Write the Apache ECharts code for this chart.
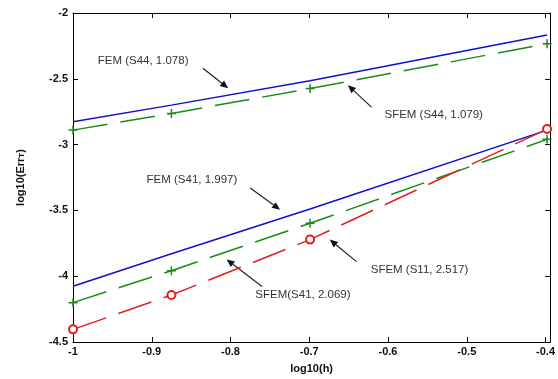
<!DOCTYPE html>
<html><head><meta charset="utf-8">
<script src="https://cdn.jsdelivr.net/npm/echarts@6/dist/echarts.min.js"></script>
<style>html,body{margin:0;padding:0;background:#fff}#c{width:558px;height:379px}</style>
</head><body><div id="c"></div>
<script>
const logH = [-1, -0.875, -0.699, -0.398];
const femS44 = [-2.827, -2.70, -2.515, -2.167];
const sfemS44 = [-2.890, -2.763, -2.574, -2.233];
const femS41 = [-4.076, -3.83, -3.49, -2.89];
const sfemS41 = [-4.201, -3.958, -3.598, -2.96];
const sfemS11 = [-4.404, -4.143, -3.722, -2.882];
const xTicks = [-1, -0.9, -0.8, -0.7, -0.6, -0.5, -0.4];
const yTicks = [-4.5, -4, -3.5, -3, -2.5, -2];
// annotations: [text, textX, textY, arrowFromX, arrowFromY, arrowToX, arrowToY]
const notes = [
  ['FEM (S44, 1.078)', -0.911, -2.36, -0.835, -2.42, -0.803, -2.572],
  ['SFEM (S44, 1.079)', -0.542, -2.776, -0.621, -2.715, -0.651, -2.549],
  ['FEM (S41, 1.997)', -0.849, -3.268, -0.775, -3.329, -0.737, -3.495],
  ['SFEM (S11, 2.517)', -0.560, -3.949, -0.640, -3.889, -0.674, -3.722],
  ['SFEM(S41, 2.069)', -0.708, -4.139, -0.760, -4.078, -0.805, -3.873]
];

const pairs = a => logH.map((x, i) => [x, a[i]]);
const lab = {color:'#111', fontWeight:'bold', fontSize:11, fontFamily:'Liberation Sans, Arial'};
const chart = echarts.init(document.getElementById('c'));
const xBase = {type:'value', min:-1, max:-0.394, interval:0.1, splitLine:{show:false},
  axisLine:{show:true, onZero:false, lineStyle:{color:'#000', width:1}},
  axisTick:{show:true, inside:true, length:5, lineStyle:{color:'#000'}}};
const yBase = {type:'value', min:-4.5, max:-2, interval:0.5, splitLine:{show:false},
  axisLine:{show:true, onZero:false, lineStyle:{color:'#000', width:1}},
  axisTick:{show:true, inside:true, length:5, lineStyle:{color:'#000'}}};
chart.setOption({
  animation:false,
  backgroundColor:'#fff',
  grid:{left:73, right:7, top:13, bottom:36},
  xAxis:[
    Object.assign({}, xBase, {position:'bottom',
      axisLabel:Object.assign({}, lab, {margin:4,
        formatter: v => xTicks.some(t => Math.abs(t - v) < 1e-9) ? String(v) : ''}),
      name:'log10(h)', nameLocation:'middle', nameGap:21,
      nameTextStyle:Object.assign({}, lab, {fontSize:11})}),
    Object.assign({}, xBase, {position:'top', axisLabel:{show:false}})
  ],
  yAxis:[
    Object.assign({}, yBase, {position:'left',
      axisLabel:Object.assign({}, lab, {margin:5,
        formatter: v => yTicks.some(t => Math.abs(t - v) < 1e-9) ? String(v) : ''}),
      name:'{a|log10(Err}{b|T}{a|)}', nameLocation:'middle', nameGap:47, nameRotate:90,
      nameTextStyle:{rich:{a:Object.assign({}, lab, {fontSize:11}), b:Object.assign({}, lab, {fontSize:8, verticalAlign:'bottom'})}}}),
    Object.assign({}, yBase, {position:'right', axisLabel:{show:false}})
  ],
  series:[
    {type:'line', data:pairs(femS44), symbol:'none', lineStyle:{color:'#1010c8', width:1.5}, z:3},
    {type:'line', data:pairs(sfemS44), symbol:'path://M0,5L10,5M5,0L5,10', symbolSize:9,
      itemStyle:{color:'none', borderColor:'#1a8a1a', borderWidth:1.5},
      lineStyle:{color:'#1a8a1a', width:1.5, type:[35,13]}, z:2},
    {type:'line', data:pairs(femS41), symbol:'none', lineStyle:{color:'#1010c8', width:1.5}, z:3},
    {type:'line', data:pairs(sfemS41), symbol:'path://M0,5L10,5M5,0L5,10', symbolSize:9,
      itemStyle:{color:'none', borderColor:'#1a8a1a', borderWidth:1.5},
      lineStyle:{color:'#1a8a1a', width:1.5, type:[35,13]}, z:2},
    {type:'line', data:pairs(sfemS11), symbol:'emptyCircle', symbolSize:8,
      itemStyle:{color:'#e02020', borderColor:'#e02020', borderWidth:1.3},
      lineStyle:{color:'#e02020', width:1.5, type:[35,13]}, z:4}
  ]
});

const px = (x, y) => chart.convertToPixel({gridIndex:0}, [x, y]);
const g = [];
notes.forEach(n => {
  const t = px(n[1], n[2]), a = px(n[3], n[4]), b = px(n[5], n[6]);
  g.push({type:'text', x:t[0], y:t[1], style:{text:n[0], fill:'#333', font:'11.5px Liberation Sans, Arial', align:'center', verticalAlign:'middle'}});
  const dx = b[0]-a[0], dy = b[1]-a[1], L = Math.hypot(dx, dy), ux = dx/L, uy = dy/L;
  const hl = 8, hw = 3.5;
  const bx = b[0]-ux*hl, by = b[1]-uy*hl;
  g.push({type:'line', shape:{x1:a[0], y1:a[1], x2:bx, y2:by}, style:{stroke:'#222', lineWidth:1.2}});
  g.push({type:'polygon', shape:{points:[[b[0],b[1]],[bx-uy*hw, by+ux*hw],[bx+uy*hw, by-ux*hw]]}, style:{fill:'#111'}});
});
chart.setOption({graphic:g});
</script></body></html>
